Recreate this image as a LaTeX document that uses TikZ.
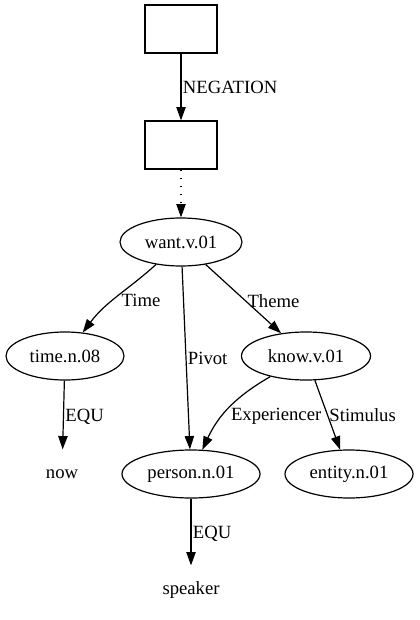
\documentclass[tikz,border=0pt]{standalone}
\usepackage{fontspec}
\setmainfont{Liberation Serif}
\usetikzlibrary{arrows.meta,shapes,positioning}

\begin{document}
\begin{tikzpicture}[x=0.75pt,y=-0.75pt,line width=0.9pt]
		\tikzstyle{every node}=[font=\fontsize{14}{16}\selectfont]
		\tikzstyle{sense}=[draw, ellipse, inner sep=0pt, minimum height=36pt]
		\tikzstyle{box}=[draw, rectangle, minimum width=54pt, minimum height=36pt]
		\tikzstyle{plain}=[inner sep=0pt, minimum height=36pt]
		\tikzstyle{rel}=[-{Triangle[length=10pt,width=7pt]}]
		\tikzstyle{lbl}=[anchor=west, inner sep=1pt]
		\useasboundingbox (0,0) rectangle (419,620);
		% boxes
		\node [box] (negbox) at (181,29) {};
		\node [box] (sbox) at (181,145) {};
		% senses
		\node [sense, minimum width=91.5pt] (want) at (181,242) {want.v.01};
		\node [sense, minimum width=88.5pt] (time) at (65,356) {time.n.08};
		\node [sense, minimum width=96.75pt] (know) at (306,356) {know.v.01};
		\node [sense, minimum width=103.5pt] (person) at (191,474) {person.n.01};
		\node [sense, minimum width=96pt] (entity) at (349,474) {entity.n.01};
		\node [plain] (now) at (62,474) {now};
		\node [plain] (speaker) at (191,590) {speaker};
		% edges
		\draw [rel] (negbox) -- node [lbl] (lneg) {NEGATION} (sbox);
		\draw [rel, dash pattern=on 1pt off 5pt] (sbox) -- (want);
		\draw [rel] (want) to [out=222, in=53] node [lbl, pos=0.56, xshift=5pt] (ltime) {Time} (time);
		\draw [rel] (want) -- node [lbl] (lpivot) {Pivot} (person);
		\draw [rel] (want) -- node [lbl, pos=0.53] (ltheme) {Theme} (know);
		\draw [rel] (time) -- node [lbl, pos=0.53] (lequa) {EQU} (now);
		\draw [rel] (know) to [out=210, in=65] node [lbl, pos=0.62, xshift=5pt] (lexp) {Experiencer} (person);
		\draw [rel] (know) -- node [lbl] (lstim) {Stimulus} (entity);
		\draw [rel] (person) -- node [lbl, pos=0.53] (lequb) {EQU} (speaker);
	\end{tikzpicture}
\end{document}
